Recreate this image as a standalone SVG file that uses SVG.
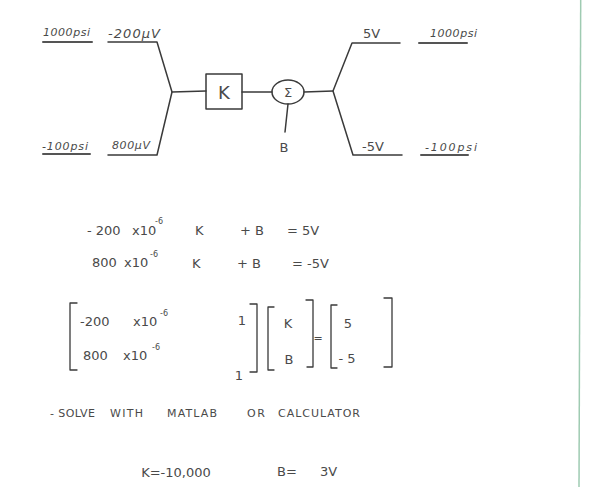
<svg xmlns="http://www.w3.org/2000/svg" width="593" height="487" viewBox="0 0 593 487">
<style>
.ln{stroke:#3a3a3a;stroke-width:1.5;fill:none;stroke-linecap:round;stroke-linejoin:round}
.ul{stroke:#555;stroke-width:2;fill:none;stroke-linecap:round}
.t{font-family:"DejaVu Sans",sans-serif;fill:#4a4a4a}
.s{font-size:11px}
.m{font-size:13px}
.e{font-size:8px}
.l{font-size:18px}
.br{stroke:#3a3a3a;stroke-width:1.3;fill:none;stroke-linecap:round;stroke-linejoin:round}
</style>
<rect width="593" height="487" fill="#ffffff"/>
<line x1="580.7" y1="0" x2="579" y2="487" stroke="#9fcbb2" stroke-width="1.5"/>

<g id="connectors">
<line class="ul" x1="43" y1="42" x2="92" y2="42"/>
<line class="ul" x1="43" y1="154" x2="90" y2="154"/>
<path class="ln" d="M108,42 H157 L172,92 L157,155 H108"/>
<line class="ln" x1="172" y1="92" x2="206" y2="91"/>
<line class="ln" x1="242" y1="92" x2="272" y2="92"/>
<line class="ln" x1="304" y1="92" x2="333" y2="91"/>
<line class="ln" x1="288" y1="104" x2="285" y2="132"/>
<path class="ln" d="M400,43 H352 L333,91 L353,155 H402"/>
<line class="ul" x1="419" y1="43" x2="467" y2="43"/>
<line class="ul" x1="421" y1="155" x2="468" y2="155"/>
</g>

<g id="node-K">
<rect class="ln" x="206" y="74" width="36" height="35"/>
<text class="t l" x="224" y="99" text-anchor="middle">K</text>
</g>
<g id="node-sum">
<ellipse class="ln" cx="288" cy="92" rx="16" ry="12"/>
<text class="t m" x="288" y="97" text-anchor="middle">Σ</text>
</g>
<g id="node-B">
<text class="t m" x="284" y="152" text-anchor="middle">B</text>
</g>

<g id="labels">
<text class="t s" x="43" y="36" font-style="italic" textLength="47">1000psi</text>
<text class="t m" x="108" y="38" font-style="italic" textLength="52">-200μV</text>
<text class="t s" x="42" y="150" font-style="italic" textLength="46">-100psi</text>
<text class="t s" x="112" y="149" font-style="italic" textLength="38">800μV</text>
<text class="t m" x="363" y="38">5V</text>
<text class="t s" x="430" y="37" font-style="italic" textLength="47">1000psi</text>
<text class="t m" x="362" y="151">-5V</text>
<text class="t s" x="425" y="151" font-style="italic" textLength="52">-100psi</text>
</g>

<g id="equations">
<text class="t m" x="87" y="235">- 200</text>
<text class="t m" x="132" y="235">x10</text>
<text class="t e" x="155" y="224">-6</text>
<text class="t m" x="195" y="235">K</text>
<text class="t m" x="240" y="235">+ B</text>
<text class="t m" x="287" y="235">= 5V</text>
<text class="t m" x="92" y="267">800</text>
<text class="t m" x="124" y="267">x10</text>
<text class="t e" x="150" y="257">-6</text>
<text class="t m" x="192" y="268">K</text>
<text class="t m" x="237" y="268">+ B</text>
<text class="t m" x="292" y="268">= -5V</text>
</g>

<g id="matrix">
<path class="br" d="M77,303 H70 V370 H77"/>
<text class="t m" x="80" y="326">-200</text>
<text class="t m" x="133" y="326">x10</text>
<text class="t e" x="160" y="316">-6</text>
<text class="t m" x="83" y="360">800</text>
<text class="t m" x="123" y="360">x10</text>
<text class="t e" x="152" y="350">-6</text>
<text class="t m" x="242" y="325" text-anchor="middle">1</text>
<text class="t m" x="239" y="380" text-anchor="middle">1</text>
<path class="br" d="M250,304 H257 V372 H250"/>
<path class="br" d="M274,307 H268 V370 H274"/>
<text class="t m" x="288" y="328" text-anchor="middle">K</text>
<text class="t m" x="289" y="364" text-anchor="middle">B</text>
<path class="br" d="M306,300 H313 V367 H307"/>
<text class="t s" x="318" y="342" text-anchor="middle">=</text>
<path class="br" d="M337,305 H331 V368 H337"/>
<text class="t m" x="348" y="328" text-anchor="middle">5</text>
<text class="t m" x="347" y="363" text-anchor="middle">- 5</text>
<path class="br" d="M384,298 H392 V367 H384"/>
</g>

<g id="notes">
<text class="t s" x="50" y="417" textLength="45">- SOLVE</text>
<text class="t s" x="110" y="417" textLength="33">WITH</text>
<text class="t s" x="167" y="417" textLength="50">MATLAB</text>
<text class="t s" x="247" y="417" textLength="18">OR</text>
<text class="t s" x="278" y="417" textLength="82">CALCULATOR</text>
<text class="t m" x="176" y="477" text-anchor="middle">K=-10,000</text>
<text class="t m" x="277" y="476">B=</text>
<text class="t m" x="320" y="476">3V</text>
</g>
</svg>
